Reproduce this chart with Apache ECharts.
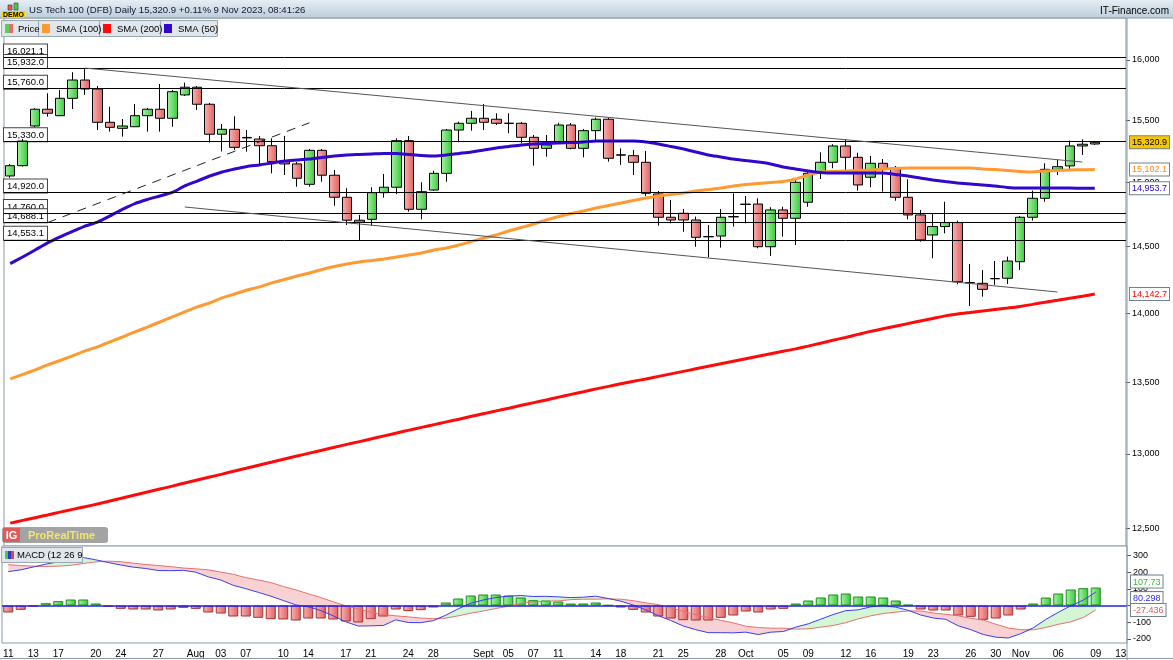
<!DOCTYPE html>
<html><head><meta charset="utf-8">
<script src="https://cdn.jsdelivr.net/npm/echarts@6/dist/echarts.min.js"></script>
<style>html,body{margin:0;padding:0;background:#fff}#c{width:1173px;height:660px}</style>
</head><body><div id="c"></div>
<script>
// ---------- DATA ----------
const categories = ['07-11','07-12','07-13','07-14','07-17','07-18','07-19','07-20','07-21','07-24','07-25','07-26','07-27','07-28','07-31',
'08-01','08-02','08-03','08-04','08-07','08-08','08-09','08-10','08-11','08-14','08-15','08-16','08-17','08-18','08-21','08-22','08-23','08-24','08-25','08-28','08-29','08-30','08-31',
'09-01','09-04','09-05','09-06','09-07','09-08','09-11','09-12','09-13','09-14','09-15','09-18','09-19','09-20','09-21','09-22','09-25','09-26','09-27','09-28','09-29',
'10-02','10-03','10-04','10-05','10-06','10-09','10-10','10-11','10-12','10-13','10-16','10-17','10-18','10-19','10-20','10-23','10-24','10-25','10-26','10-27','10-30','10-31',
'11-01','11-02','11-03','11-06','11-07','11-08','11-09','11-10','11-13'];
const xTickDates = ['07-11','07-13','07-17','07-20','07-24','07-27','08-01','08-03','08-07','08-10','08-14','08-17','08-21','08-24','08-28','09-01','09-05','09-07','09-11','09-14','09-18','09-21','09-25','09-28','10-02','10-05','10-09','10-12','10-16','10-19','10-23','10-26','10-30','11-01','11-06','11-09','11-13'];
const xTickTexts = ['11','13','17','20','24','27','Aug','03','07','10','14','17','21','24','28','Sept','05','07','11','14','18','21','25','28','Oct','05','09','12','16','19','23','26','30','Nov','06','09','13'];

const opens = [15051,15133,15453,15590,15537,15680,15832,15757,15483,15434,
15447,15537,15590,15516,15708,15772,15631,15386,15426,15360,
15347,15293,15165,15147,14985,15256,15057,14883,14704,14711,
14919,14962,15334,14789,14940,15072,15420,15475,15516,15508,
15476,15475,15361,15272,15326,15461,15272,15415,15508,15220,
15213,15160,14909,14727,14758,14706,14578,14582,14732,14829,
14830,14500,14784,14719,14844,15072,15160,15291,15200,15041,
15152,15107,14883,14745,14590,14655,14686,14229,14223,14259,
14261,14386,14727,14875,15104,15131,15291,15307];
const highs = [15147,15347,15598,15722,15749,15897,15930,15782,15611,15510,
15633,15600,15799,15749,15810,15782,15642,15469,15532,15420,
15372,15353,15372,15162,15267,15267,15099,14954,14745,14962,
15067,15353,15372,15001,15093,15429,15488,15576,15633,15557,
15557,15486,15380,15380,15480,15477,15428,15521,15521,15272,
15259,15251,14932,14862,14791,14732,14667,14791,14914,14893,
14875,14805,14809,15019,15085,15240,15305,15345,15237,15211,
15186,15131,15025,14784,14753,14848,14701,14369,14323,14391,
14424,14737,14935,15152,15178,15334,15345,15332];
const lows = [15037,15125,15445,15529,15534,15592,15708,15420,15407,15366,
15445,15407,15407,15447,15699,15584,15319,15247,15259,15245,
15147,15072,15059,14966,14966,15006,14817,14667,14552,14662,
14880,14907,14770,14711,14932,15006,15321,15415,15420,15461,
15394,15313,15133,15205,15323,15264,15200,15339,15165,15139,
15059,14893,14662,14680,14615,14500,14420,14493,14655,14680,
14488,14430,14577,14513,14809,15027,15112,15091,14935,14962,
14927,14856,14711,14539,14412,14603,14216,14054,14123,14211,
14218,14323,14701,14848,15059,15104,15219,15299];
const closes = [15133,15331,15590,15557,15680,15832,15757,15483,15442,15453,
15537,15590,15516,15735,15772,15631,15386,15426,15280,15356,
15293,15165,15147,15033,15256,15057,14883,14704,14688,14919,
14962,15334,14789,14927,15072,15420,15475,15516,15483,15475,
15474,15361,15272,15299,15461,15272,15415,15508,15192,15217,
15160,14914,14727,14706,14706,14572,14576,14727,14730,14827,
14500,14784,14719,15001,15072,15160,15291,15200,14980,15152,
15107,14883,14745,14552,14655,14686,14235,14227,14178,14257,
14391,14727,14875,15104,15125,15291,15305,15320.9];

const sma50 = [14372,14422,14475,14529,14575,14617,14659,14690,14737,14788,
14834,14866,14893,14921,14972,15011,15051,15083,15107,15127,
15139,15155,15170,15178,15186,15199,15211,15219,15223,15227,
15231,15231,15223,15215,15211,15219,15231,15243,15259,15275,
15287,15299,15307,15311,15315,15319,15323,15331,15331,15331,
15331,15323,15307,15287,15267,15243,15219,15203,15186,15174,
15162,15147,15123,15107,15091,15079,15075,15075,15075,15075,
15075,15063,15051,15035,15019,15007,14996,14988,14980,14972,
14960,14956,14956,14956,14956,14955,14954,14953.7];
const sma100 = [13524,13556,13588,13624,13656,13689,13725,13754,13790,13826,
13863,13899,13936,13973,14010,14047,14076,14114,14143,14173,
14196,14226,14252,14278,14301,14327,14350,14369,14384,14395,
14407,14422,14437,14452,14475,14490,14513,14540,14567,14590,
14621,14648,14675,14706,14733,14756,14776,14799,14819,14838,
14858,14877,14893,14905,14917,14932,14944,14956,14972,14984,
14992,15000,15007,15027,15059,15083,15087,15091,15095,15099,
15107,15111,15115,15115,15115,15115,15115,15115,15107,15103,
15095,15087,15083,15091,15095,15099,15100,15102.1];
const sma200 = [12534,12552,12570,12588,12607,12625,12643,12661,12681,12701,
12721,12741,12761,12781,12802,12822,12842,12862,12883,12903,
12924,12944,12965,12985,13005,13025,13045,13065,13084,13104,
13124,13144,13164,13183,13202,13221,13240,13260,13279,13298,
13317,13337,13356,13375,13395,13414,13433,13453,13471,13489,
13507,13524,13542,13560,13578,13596,13614,13632,13650,13668,
13686,13704,13722,13740,13760,13781,13802,13823,13845,13867,
13886,13905,13924,13943,13962,13981,13995,14006,14017,14028,
14039,14051,14066,14082,14096,14111,14126,14142.7];

const macdLine = [203,214,231,248,262,277,288,274,258,243,
230,222,210,209,211,200,172,153,121,101,
79,56,30,4,-8,-30,-62,-98,-123,-122,
-120,-86,-102,-103,-91,-58,-20,14,33,48,
56,60,54,55,52,47,50,56,42,26,
3,-26,-61,-90,-123,-145,-163,-163,-164,-160,
-174,-160,-156,-130,-110,-82,-54,-31,-26,-8,
0,-10,-29,-57,-75,-83,-122,-145,-174,-190,
-195,-169,-134,-84,-41,-2,32,80.298];
const signalLine = [245,240,236,234,236,241,252,262,266,263,
254,246,240,233,225,220,214,201,187,167,
153,138,114,94,70,48,22,-2,-21,-40,
-54,-62,-68,-75,-79,-76,-62,-46,-33,-18,
-4,12,22,25,28,35,38,38,40,38,
29,16,5,-12,-35,-55,-73,-89,-104,-124,
-132,-136,-136,-142,-140,-130,-120,-103,-80,-62,
-48,-40,-33,-33,-45,-53,-62,-77,-88,-112,
-135,-145,-146,-132,-113,-98,-72,-27.436];
const histogram = [-42,-26,-5,14,26,36,36,12,-8,-20,
-24,-24,-30,-24,-14,-20,-42,-48,-66,-66,
-74,-82,-84,-90,-78,-78,-84,-96,-102,-82,
-66,-24,-34,-28,-12,18,42,60,66,66,
60,48,32,30,24,12,12,18,2,-12,
-26,-42,-66,-78,-88,-90,-90,-74,-60,-36,
-42,-24,-20,12,30,48,66,72,54,54,
48,30,4,-24,-30,-30,-60,-68,-86,-78,
-60,-24,12,48,72,96,104,107.73];

const levels = [16021.1, 15932.0, 15760.0, 15330.0, 14920.0, 14760.0, 14688.1, 14553.1];
const trendUpper = [[6, 15932], [86, 15162]];
const trendLower = [[14, 14807], [84, 14158]];
const trendDashed = [[3, 14686], [24, 15479]];
const priceTicks = [12500, 13000, 13500, 14000, 14500, 15000, 15500, 16000];
const macdTicks = [-200, -100, 0, 100, 200, 300];

// ---------- CHART ----------
const L = v => Math.log(v);
const fmt = (v, d) => v.toLocaleString('en-US', {minimumFractionDigits: d, maximumFractionDigits: d});
const priceMin = 12383.7, priceMax = 16358.2;
const macdMin = -225, macdMax = 357;

const gGreen = new echarts.graphic.LinearGradient(0,0,1,0,[{offset:0,color:'#a9f3a9'},{offset:1,color:'#38c838'}]);
const gRed = new echarts.graphic.LinearGradient(0,0,1,0,[{offset:0,color:'#f8b4b4'},{offset:1,color:'#e0605f'}]);

const last = closes.length - 1;
const tagBox = {borderColor: '#71828f', borderWidth: 1, padding: [2,2,1,2], fontSize: 9, fontFamily: 'Arial'};
const priceTags = [
  {v: closes[last], bg: '#f7c600', c: '#000'},
  {v: sma100[last], bg: '#fff', c: '#ff8a1c'},
  {v: sma50[last], bg: '#fff', c: '#2a00cc'},
  {v: sma200[last], bg: '#fff', c: '#ff0000'}
];
const macdTags = [
  {v: histogram[last], c: '#33bb33', va: 'bottom'},
  {v: macdLine[last], c: '#2a2ae0', va: 'top'},
  {v: signalLine[last], c: '#e05a5a', va: 'middle'}
];

const candleData = opens.map((o,i) => [L(o), L(closes[i]), L(lows[i]), L(highs[i])]);

const markData = levels.map(v => ({yAxis: L(v), lineStyle: {color: '#000', width: 1, type: 'solid'}}));
const trendItem = (t, style) => [
  {coord: [t[0][0], L(t[0][1])], lineStyle: style},
  {coord: [t[1][0], L(t[1][1])]}
];
markData.push(trendItem(trendUpper, {color: '#555', width: 1, type: 'solid'}));
markData.push(trendItem(trendLower, {color: '#555', width: 1, type: 'solid'}));
markData.push(trendItem(trendDashed, {color: '#222', width: 1, type: [9, 7]}));

const bandBase = macdLine.map((m,i) => Math.min(m, signalLine[i]));
const bandUp = macdLine.map((m,i) => Math.max(m - signalLine[i], 0));
const bandDown = macdLine.map((m,i) => Math.max(signalLine[i] - m, 0));

const axisFont = {fontSize: 9, fontFamily: 'Arial', color: '#000'};
const hiddenAxis = {splitLine: {show: false}, axisLine: {show: false}, axisTick: {show: false}};

const yAxes = [
  Object.assign({type: 'value', gridIndex: 0, position: 'right', min: L(priceMin), max: L(priceMax),
    axisTick: {show: true, length: 4, lineStyle: {color: '#555'}, customValues: priceTicks.map(L)},
    axisLabel: Object.assign({margin: 6, showMinLabel: true, showMaxLabel: true, customValues: priceTicks.map(L), formatter: v => fmt(Math.round(Math.exp(v)), 0)}, axisFont)},
    {splitLine: {show: false}, axisLine: {show: false}}),
  Object.assign({type: 'value', gridIndex: 1, position: 'right', min: macdMin, max: macdMax,
    axisTick: {show: true, length: 4, lineStyle: {color: '#555'}, customValues: macdTicks},
    axisLabel: Object.assign({margin: 6, showMinLabel: true, showMaxLabel: true, customValues: macdTicks}, axisFont)},
    {splitLine: {show: false}, axisLine: {show: false}})
];
// left level labels, one axis per level so none is hidden by overlap
levels.forEach(lv => yAxes.push(Object.assign({type: 'value', gridIndex: 0, position: 'left', min: L(priceMin), max: L(priceMax), z: 1,
  axisLabel: {inside: true, margin: 0, verticalAlign: 'bottom', showMinLabel: true, showMaxLabel: true,
    customValues: [L(lv)], formatter: () => fmt(lv, 1),
    fontSize: 9.5, fontFamily: 'Arial', color: '#000', backgroundColor: '#fff', borderColor: '#444', borderWidth: 1, padding: [2,3,1,3]}}, hiddenAxis)));
priceTags.forEach(t => yAxes.push(Object.assign({type: 'value', gridIndex: 0, position: 'right', min: L(priceMin), max: L(priceMax), z: 5,
  axisLabel: Object.assign({margin: 4, showMinLabel: true, showMaxLabel: true, customValues: [L(t.v)], formatter: () => fmt(t.v, 1),
    backgroundColor: t.bg, color: t.c}, tagBox)}, hiddenAxis)));
macdTags.forEach(t => yAxes.push(Object.assign({type: 'value', gridIndex: 1, position: 'right', min: macdMin, max: macdMax, z: 5,
  axisLabel: Object.assign({margin: 4, showMinLabel: true, showMaxLabel: true, customValues: [t.v], formatter: () => String(t.v),
    verticalAlign: t.va, backgroundColor: '#fff', color: t.c}, tagBox)}, hiddenAxis)));

const option = {
  animation: false,
  backgroundColor: '#fff',
  grid: [
    {left: 2, top: 18, width: 1125, height: 528, show: true, borderColor: '#8a9aa8', borderWidth: 1, backgroundColor: '#fff'},
    {left: 2, top: 546, width: 1125, height: 97, show: true, borderColor: '#8a9aa8', borderWidth: 1, backgroundColor: '#fff'}
  ],
  xAxis: [
    {type: 'category', gridIndex: 0, data: categories, boundaryGap: true, axisLine: {show: false}, axisTick: {show: false}, axisLabel: {show: false}, splitLine: {show: false}},
    {type: 'category', gridIndex: 1, data: categories, boundaryGap: true, axisLine: {show: false}, axisTick: {show: false}, splitLine: {show: false},
      axisLabel: {fontSize: 10, fontFamily: 'Arial', color: '#000', margin: 6,
        interval: (idx, val) => xTickDates.includes(val),
        formatter: val => { const k = xTickDates.indexOf(val); return k >= 0 ? xTickTexts[k] : ''; }}}
  ],
  yAxis: yAxes,
  series: [
    {type: 'candlestick', xAxisIndex: 0, yAxisIndex: 0, data: candleData, barWidth: 10, z: 2,
      itemStyle: {color: gGreen, color0: gRed, borderColor: '#000', borderColor0: '#000', borderColorDoji: '#000', borderWidth: 1},
      markLine: {silent: true, precision: 10, symbol: ['none','none'], animation: false, label: {show: false}, data: markData}},
    {type: 'line', xAxisIndex: 0, yAxisIndex: 0, data: sma200.map(L), showSymbol: false, smooth: 0.2, z: 3, lineStyle: {color: '#ff0a0a', width: 3}},
    {type: 'line', xAxisIndex: 0, yAxisIndex: 0, data: sma100.map(L), showSymbol: false, smooth: 0.2, z: 3, lineStyle: {color: '#ff9a33', width: 3}},
    {type: 'line', xAxisIndex: 0, yAxisIndex: 0, data: sma50.map(L), showSymbol: false, smooth: 0.2, z: 3, lineStyle: {color: '#3306cc', width: 3}},
    {type: 'line', xAxisIndex: 1, yAxisIndex: 1, data: bandBase, stack: 'band', stackStrategy: 'all', showSymbol: false, z: 1, lineStyle: {opacity: 0}, silent: true},
    {type: 'line', xAxisIndex: 1, yAxisIndex: 1, data: bandUp, stack: 'band', stackStrategy: 'all', showSymbol: false, z: 1, lineStyle: {opacity: 0}, areaStyle: {color: '#d4f6d4', opacity: 1}, silent: true},
    {type: 'line', xAxisIndex: 1, yAxisIndex: 1, data: bandDown, stack: 'band', stackStrategy: 'all', showSymbol: false, z: 1, lineStyle: {opacity: 0}, areaStyle: {color: '#f8d2d2', opacity: 1}, silent: true},
    {type: 'bar', xAxisIndex: 1, yAxisIndex: 1, barWidth: 10, z: 2,
      data: histogram.map(h => ({value: h, itemStyle: {color: h >= 0 ? gGreen : gRed, borderColor: h >= 0 ? '#1f8c1f' : '#a83030', borderWidth: 1}})),
      markLine: {silent: true, precision: 10, symbol: ['none','none'], label: {show: false}, lineStyle: {color: '#2222e6', width: 1.5, type: 'solid'}, data: [{yAxis: 0}]}},
    {type: 'line', xAxisIndex: 1, yAxisIndex: 1, data: signalLine, showSymbol: false, z: 3, lineStyle: {color: '#e87070', width: 1}},
    {type: 'line', xAxisIndex: 1, yAxisIndex: 1, data: macdLine, showSymbol: false, z: 3, lineStyle: {color: '#3c3cf0', width: 1}}
  ],
  graphic: [
    {type: 'rect', shape: {x: 0, y: 0, width: 1173, height: 18}, style: {fill: new echarts.graphic.LinearGradient(0,0,0,1,[{offset:0,color:'#e6eef4'},{offset:1,color:'#bccdda'}])}, z: 10},
    {type: 'line', shape: {x1: 0, y1: 18, x2: 1173, y2: 18}, style: {stroke: '#8a9aa8', lineWidth: 1}, z: 11},
    {type: 'rect', shape: {x: 2, y: 11, width: 23, height: 7}, style: {fill: '#f5d200'}, z: 11},
    {type: 'text', style: {text: 'DEMO', x: 13.5, y: 14.8, align: 'center', verticalAlign: 'middle', font: 'bold 7px Arial', fill: '#000'}, z: 12},
    {type: 'rect', shape: {x: 8, y: 5, width: 4, height: 5}, style: {fill: '#e85a5a', stroke: '#333', lineWidth: 0.6}, z: 12},
    {type: 'rect', shape: {x: 14, y: 3, width: 4, height: 7}, style: {fill: '#4ccc4c', stroke: '#333', lineWidth: 0.6}, z: 12},
    {type: 'text', style: {text: 'US Tech 100 (DFB) Daily 15,320.9 +0.11% 9 Nov 2023, 08:41:26', x: 29, y: 10, verticalAlign: 'middle', font: '9.6px Arial', fill: '#141432'}, z: 12},
    {type: 'text', style: {text: 'IT-Finance.com', x: 1169, y: 11, align: 'right', verticalAlign: 'middle', font: '10px Arial', fill: '#000'}, z: 12},
    {type: 'rect', shape: {x: 1.5, y: 20.5, width: 37, height: 16}, style: {fill: '#dfe6ec', stroke: '#9aa8b4', lineWidth: 1}, z: 12},
    {type: 'rect', shape: {x: 38.5, y: 20.5, width: 61, height: 16}, style: {fill: '#dfe6ec', stroke: '#9aa8b4', lineWidth: 1}, z: 12},
    {type: 'rect', shape: {x: 99.5, y: 20.5, width: 61, height: 16}, style: {fill: '#dfe6ec', stroke: '#9aa8b4', lineWidth: 1}, z: 12},
    {type: 'rect', shape: {x: 160.5, y: 20.5, width: 57, height: 16}, style: {fill: '#dfe6ec', stroke: '#9aa8b4', lineWidth: 1}, z: 12},
    {type: 'rect', shape: {x: 5, y: 24, width: 4, height: 9}, style: {fill: '#5ccc5c'}, z: 13},
    {type: 'rect', shape: {x: 9, y: 24, width: 4, height: 9}, style: {fill: '#e86a6a'}, z: 13},
    {type: 'rect', shape: {x: 42, y: 24, width: 8, height: 9}, style: {fill: '#ff9a33'}, z: 13},
    {type: 'rect', shape: {x: 103, y: 24, width: 8, height: 9}, style: {fill: '#ff0a0a'}, z: 13},
    {type: 'rect', shape: {x: 164, y: 24, width: 8, height: 9}, style: {fill: '#3306cc'}, z: 13},
    {type: 'text', style: {text: 'Price', x: 18, y: 29, verticalAlign: 'middle', font: '9.5px Arial', fill: '#000'}, z: 13},
    {type: 'text', style: {text: 'SMA (100)', x: 56, y: 29, verticalAlign: 'middle', font: '9.5px Arial', fill: '#000'}, z: 13},
    {type: 'text', style: {text: 'SMA (200)', x: 117, y: 29, verticalAlign: 'middle', font: '9.5px Arial', fill: '#000'}, z: 13},
    {type: 'text', style: {text: 'SMA (50)', x: 178, y: 29, verticalAlign: 'middle', font: '9.5px Arial', fill: '#000'}, z: 13},
    {type: 'rect', shape: {x: 2, y: 527, width: 106, height: 16, r: 3}, style: {fill: 'rgba(140,140,140,0.8)'}, z: 12},
    {type: 'rect', shape: {x: 3, y: 528, width: 17, height: 14}, style: {fill: '#e05a5a'}, z: 13},
    {type: 'text', style: {text: 'IG', x: 11.5, y: 535.5, align: 'center', verticalAlign: 'middle', font: 'bold 11px Arial', fill: '#fff'}, z: 14},
    {type: 'text', style: {text: 'ProRealTime', x: 28, y: 535.5, verticalAlign: 'middle', font: 'bold 11px Arial', fill: '#f3e46a'}, z: 14},
    {type: 'rect', shape: {x: 1.5, y: 547.5, width: 81, height: 15}, style: {fill: '#dfe6ec', stroke: '#9aa8b4', lineWidth: 1}, z: 12},
    {type: 'rect', shape: {x: 5, y: 551, width: 3, height: 8}, style: {fill: '#44cc44'}, z: 13},
    {type: 'rect', shape: {x: 8, y: 551, width: 3, height: 8}, style: {fill: '#3333dd'}, z: 13},
    {type: 'rect', shape: {x: 11, y: 551, width: 3, height: 8}, style: {fill: '#e04444'}, z: 13},
    {type: 'text', style: {text: 'MACD (12 26 9', x: 17, y: 555, verticalAlign: 'middle', font: '9.5px Arial', fill: '#000'}, z: 13},
    {type: 'line', shape: {x1: 1127, y1: 18, x2: 1127, y2: 660}, style: {stroke: '#8a9aa8', lineWidth: 1}, z: 11},
    {type: 'line', shape: {x1: 0, y1: 658.5, x2: 1173, y2: 658.5}, style: {stroke: '#8a9aa8', lineWidth: 1}, z: 11}
  ]
};
const chart = echarts.init(document.getElementById('c'));
chart.setOption(option);
</script>
</body></html>
